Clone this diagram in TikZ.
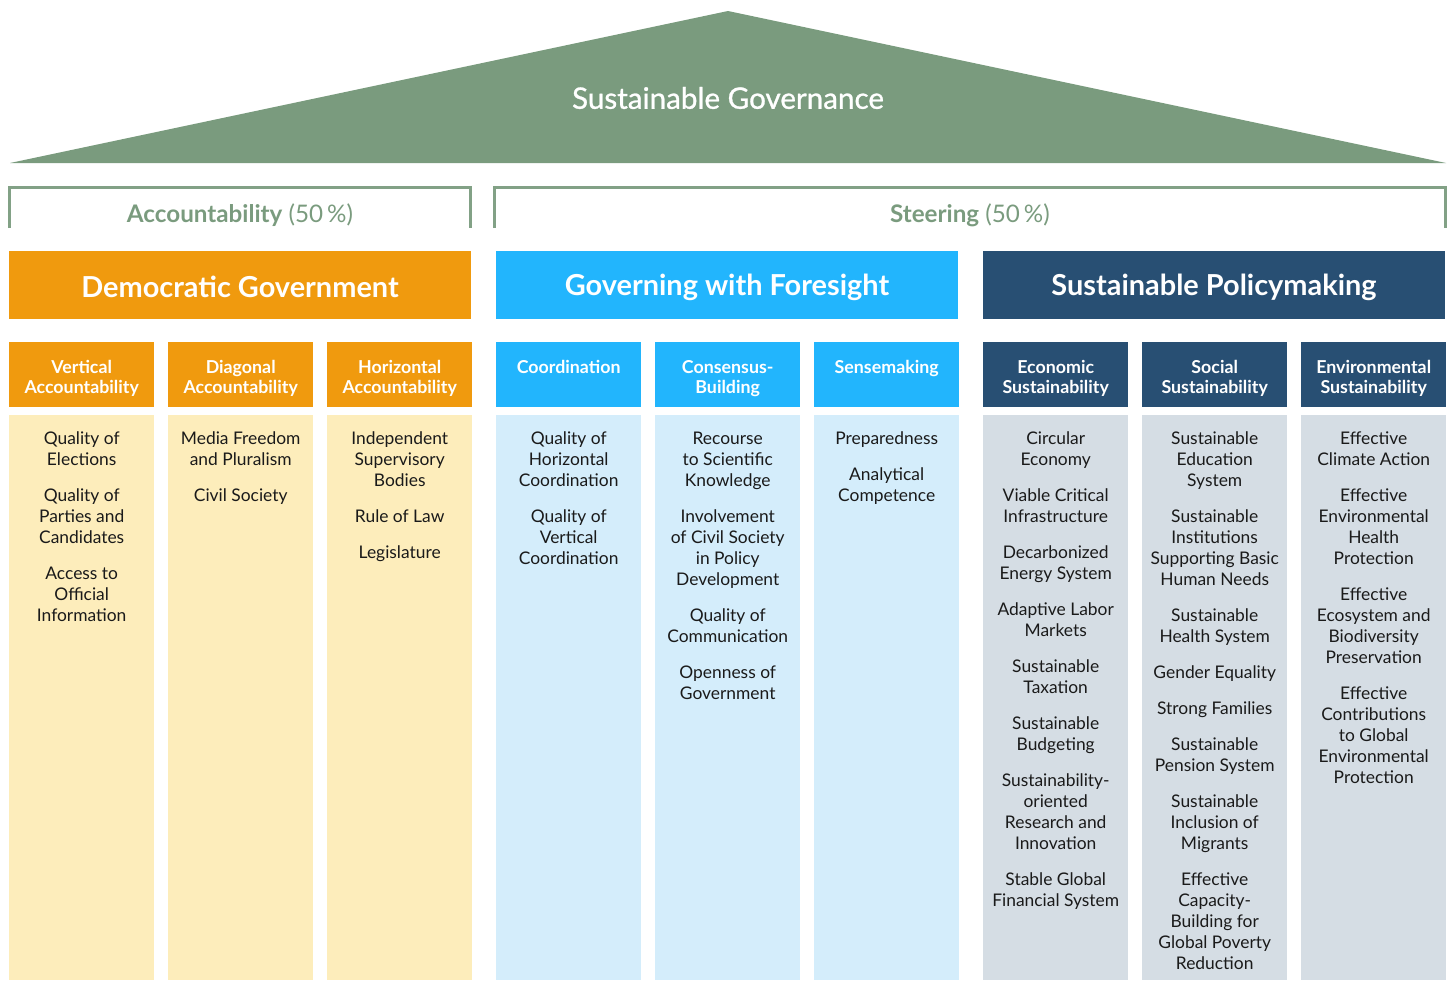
\documentclass[tikz,border=0pt]{standalone}
\usepackage{fontspec}
\setmainfont{Lato}
\newfontfamily\titlefont[FakeBold=0.9]{Lato}
\definecolor{roofgreen}{HTML}{7A9B7E}
\definecolor{brgreen}{HTML}{82A186}
\definecolor{dgorange}{HTML}{F09A0E}
\definecolor{dgbody}{HTML}{FDEDBB}
\definecolor{gfblue}{HTML}{22B5FD}
\definecolor{gfbody}{HTML}{D4EDFB}
\definecolor{spnavy}{HTML}{284F73}
\definecolor{spbody}{HTML}{D5DDE4}
\definecolor{bodytext}{HTML}{1A1A1A}
\newcommand{\headbox}[1]{\parbox[b][65bp][t]{145bp}{\centering\fontsize{17.8bp}{20.5bp}\selectfont\bfseries\vspace*{16.5bp}\strut #1\par}}
\newcommand{\bodybox}[1]{\parbox[b][565bp][t]{145bp}{\centering\fontsize{17.4bp}{21bp}\selectfont\vspace*{15bp}\strut #1\par}}
\newcommand{\itemgap}{\\[15bp]}
\tikzset{
  pillartext/.style={text=white, font=\fontsize{28.9bp}{32bp}\selectfont\bfseries, inner sep=0},
  colhead/.style={anchor=north west, inner sep=0, text=white},
  colbody/.style={anchor=north west, inner sep=0, text=bodytext},
  bracketline/.style={draw=brgreen, line width=3bp},
  grouplabel/.style={text=roofgreen, font=\fontsize{24.2bp}{28bp}\selectfont},
}
\begin{document}
\begin{tikzpicture}[x=1bp, y=-1bp]
\useasboundingbox (0,0) rectangle (1456,980);
% roof
\coordinate (roofL) at (10,163);
\coordinate (roofR) at (1446,163);
\coordinate (roofT) at (728,11);
\fill[roofgreen] (roofL) -- (roofT) -- (roofR) -- cycle;
\node[text=white, font=\fontsize{29.6bp}{34bp}\selectfont\titlefont] (title) at (728,98) {Sustainable Governance};
% brackets
\draw[bracketline] (9,228) -- (9,187) -- (470,187) -- (470,228);
\draw[bracketline] (494,228) -- (494,187) -- (1445,187) -- (1445,228);
\node[grouplabel] (acc) at (240,215) {\textbf{Accountability} (50\,\%)};
\node[grouplabel] (steer) at (970,215) {\textbf{Steering} (50\,\%)};
% pillars
\fill[dgorange] (9,251) rectangle (471,319);
\fill[gfblue] (496,251) rectangle (958,319);
\fill[spnavy] (983,251) rectangle (1445,319);
\node[pillartext] (dg) at (240,287) {Democratic Government};
\node[pillartext] (gf) at (727,287) {Governing with Foresight};
\node[pillartext] (sp) at (1214,287) {Sustainable Policymaking};
% column heads
\node[colhead, fill=dgorange] (h1) at (9,342) {\headbox{Vertical\\Accountability}};
\node[colhead, fill=dgorange] (h2) at (168,342) {\headbox{Diagonal\\Accountability}};
\node[colhead, fill=dgorange] (h3) at (327,342) {\headbox{Horizontal\\Accountability}};
\node[colhead, fill=gfblue] (h4) at (496,342) {\headbox{Coordination}};
\node[colhead, fill=gfblue] (h5) at (655,342) {\headbox{Consensus-\\Building}};
\node[colhead, fill=gfblue] (h6) at (814,342) {\headbox{Sensemaking}};
\node[colhead, fill=spnavy] (h7) at (983,342) {\headbox{Economic\\Sustainability}};
\node[colhead, fill=spnavy] (h8) at (1142,342) {\headbox{Social\\Sustainability}};
\node[colhead, fill=spnavy] (h9) at (1301,342) {\headbox{Environmental\\Sustainability}};
% column bodies
\node[colbody, fill=dgbody] (b1) at (9,415) {\bodybox{Quality of\\Elections\itemgap Quality of\\Parties and\\Candidates\itemgap Access to\\Official\\Information}};
\node[colbody, fill=dgbody] (b2) at (168,415) {\bodybox{Media Freedom\\and Pluralism\itemgap Civil Society}};
\node[colbody, fill=dgbody] (b3) at (327,415) {\bodybox{Independent\\Supervisory\\Bodies\itemgap Rule of Law\itemgap Legislature}};
\node[colbody, fill=gfbody] (b4) at (496,415) {\bodybox{Quality of\\Horizontal\\Coordination\itemgap Quality of\\Vertical\\Coordination}};
\node[colbody, fill=gfbody] (b5) at (655,415) {\bodybox{Recourse\\to Scientific\\Knowledge\itemgap Involvement\\of Civil Society\\in Policy\\Development\itemgap Quality of\\Communication\itemgap Openness of\\Government}};
\node[colbody, fill=gfbody] (b6) at (814,415) {\bodybox{Preparedness\itemgap Analytical\\Competence}};
\node[colbody, fill=spbody] (b7) at (983,415) {\bodybox{Circular\\Economy\itemgap Viable Critical\\Infrastructure\itemgap Decarbonized\\Energy System\itemgap Adaptive Labor\\Markets\itemgap Sustainable\\Taxation\itemgap Sustainable\\Budgeting\itemgap Sustainability-\\oriented\\Research and\\Innovation\itemgap Stable Global\\Financial System}};
\node[colbody, fill=spbody] (b8) at (1142,415) {\bodybox{Sustainable\\Education\\System\itemgap Sustainable\\Institutions\\Supporting Basic\\Human Needs\itemgap Sustainable\\Health System\itemgap Gender Equality\itemgap Strong Families\itemgap Sustainable\\Pension System\itemgap Sustainable\\Inclusion of\\Migrants\itemgap Effective\\Capacity-\\Building for\\Global Poverty\\Reduction}};
\node[colbody, fill=spbody] (b9) at (1301,415) {\bodybox{Effective\\Climate Action\itemgap Effective\\Environmental\\Health\\Protection\itemgap Effective\\Ecosystem and\\Biodiversity\\Preservation\itemgap Effective\\Contributions\\to Global\\Environmental\\Protection}};
\end{tikzpicture}
\end{document}
